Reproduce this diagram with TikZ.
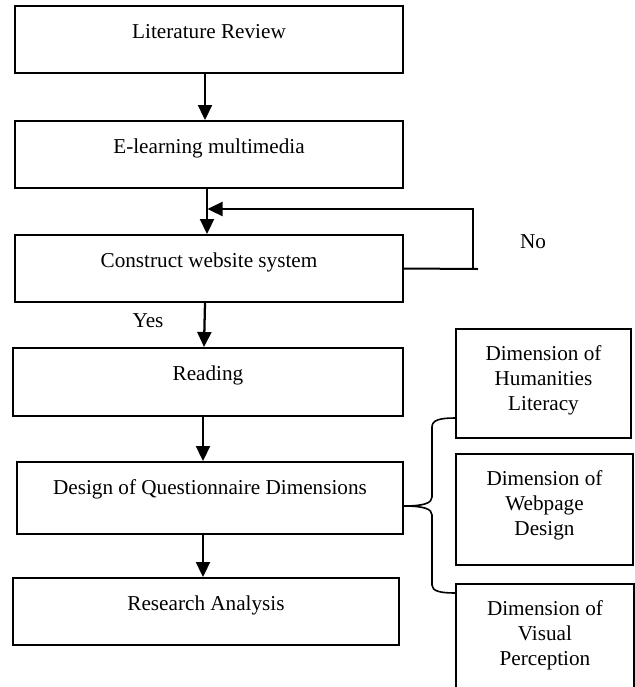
\documentclass[tikz,border=0pt]{standalone}
\usepackage{fontspec}
\setmainfont{Liberation Serif}
\usetikzlibrary{arrows.meta}
\begin{document}
\begin{tikzpicture}[x=0.75pt,y=-0.75pt,
  every node/.style={font=\fontsize{15.9pt}{18.75pt}\selectfont},
  mbox/.style={draw, line width=1.5pt, inner sep=0pt, text height=11.25pt, align=center},
  lbl/.style={inner sep=0pt},
  conn/.style={line width=1.7pt},
  arr/.style={conn, -{Triangle[length=11.25pt,width=10.5pt]}},
  bracel/.style={line width=1.2pt}]
\clip (0,0) rectangle (635,687);
\fill[white] (0,0) rectangle (635,687);

% main column
\node[mbox, minimum width=291pt, minimum height=50.25pt, text depth=13.5pt] (b1) at (209,39.5) {Literature Review};
\node[mbox, minimum width=291pt, minimum height=50.25pt, text depth=13.5pt] (b2) at (209,154.5) {E-learning multimedia};
\node[mbox, minimum width=291pt, minimum height=50.25pt, text depth=13.5pt] (b3) at (209,268.5) {Construct website system};
\node[mbox, minimum width=292.5pt, minimum height=51pt, text depth=14.25pt] (b4) at (208,382) {Reading};
\node[mbox, minimum width=289.5pt, minimum height=54pt, text depth=17.25pt] (b5) at (210,498) {Design of Questionnaire Dimensions};
\node[mbox, minimum width=289.5pt, minimum height=50.25pt, text depth=13.5pt] (b6) at (206,611.5) {Research Analysis};

% right column
\node[mbox, minimum width=131.25pt, minimum height=81.75pt, text depth=45.75pt] (r1) at (543.5,383.5)
  {\begin{tabular}[t]{@{}c@{}}Dimension of\\Humanities\\Literacy\end{tabular}};
\node[mbox, minimum width=132.75pt, minimum height=83.25pt, text depth=47.25pt] (r2) at (544.5,509.5)
  {\begin{tabular}[t]{@{}c@{}}Dimension of\\Webpage\\Design\end{tabular}};
\node[mbox, minimum width=133.5pt, minimum height=105pt, text depth=69pt] (r3) at (545,654)
  {\begin{tabular}[t]{@{}c@{}}Dimension of\\Visual\\Perception\end{tabular}};

% labels
\node[lbl] (yes) at (148,321) {Yes};
\node[lbl] (no) at (533,242) {No};

% arrows
\draw[arr] ([xshift=-3pt]b1.south) -- ([xshift=-3pt]b2.north);
\draw[arr] ([xshift=-1.5pt]b2.south) -- ([xshift=-1.5pt]b3.north);
\draw[arr] ([xshift=-3pt]b3.south) -- ([xshift=-3pt]b4.north);
\draw[arr] ([xshift=-3.75pt]b4.south) -- ([xshift=-3.75pt]b4.south |- b5.north);
\draw[arr] ([xshift=-5.25pt]b5.south) -- ([xshift=-5.25pt]b5.south |- b6.north);

% loop back (No)
\coordinate (le) at (478,269);
\coordinate (lc) at (473,269);
\coordinate (jn) at (207.5,209);
\draw[line width=1.5pt] (b3.east) -- (le);
\draw[arr] (lc) |- (jn);

% brace
\draw[bracel] (r1.west |- 0,418) .. controls (440,418) and (432,420) .. (432,427)
  -- (432,497) .. controls (432,503) and (424,506) .. (b5.east |- 0,506)
  .. controls (424,506) and (432,509) .. (432,515)
  -- (432,585) .. controls (432,591) and (440,593) .. (r3.west |- 0,593);
\end{tikzpicture}
\end{document}
